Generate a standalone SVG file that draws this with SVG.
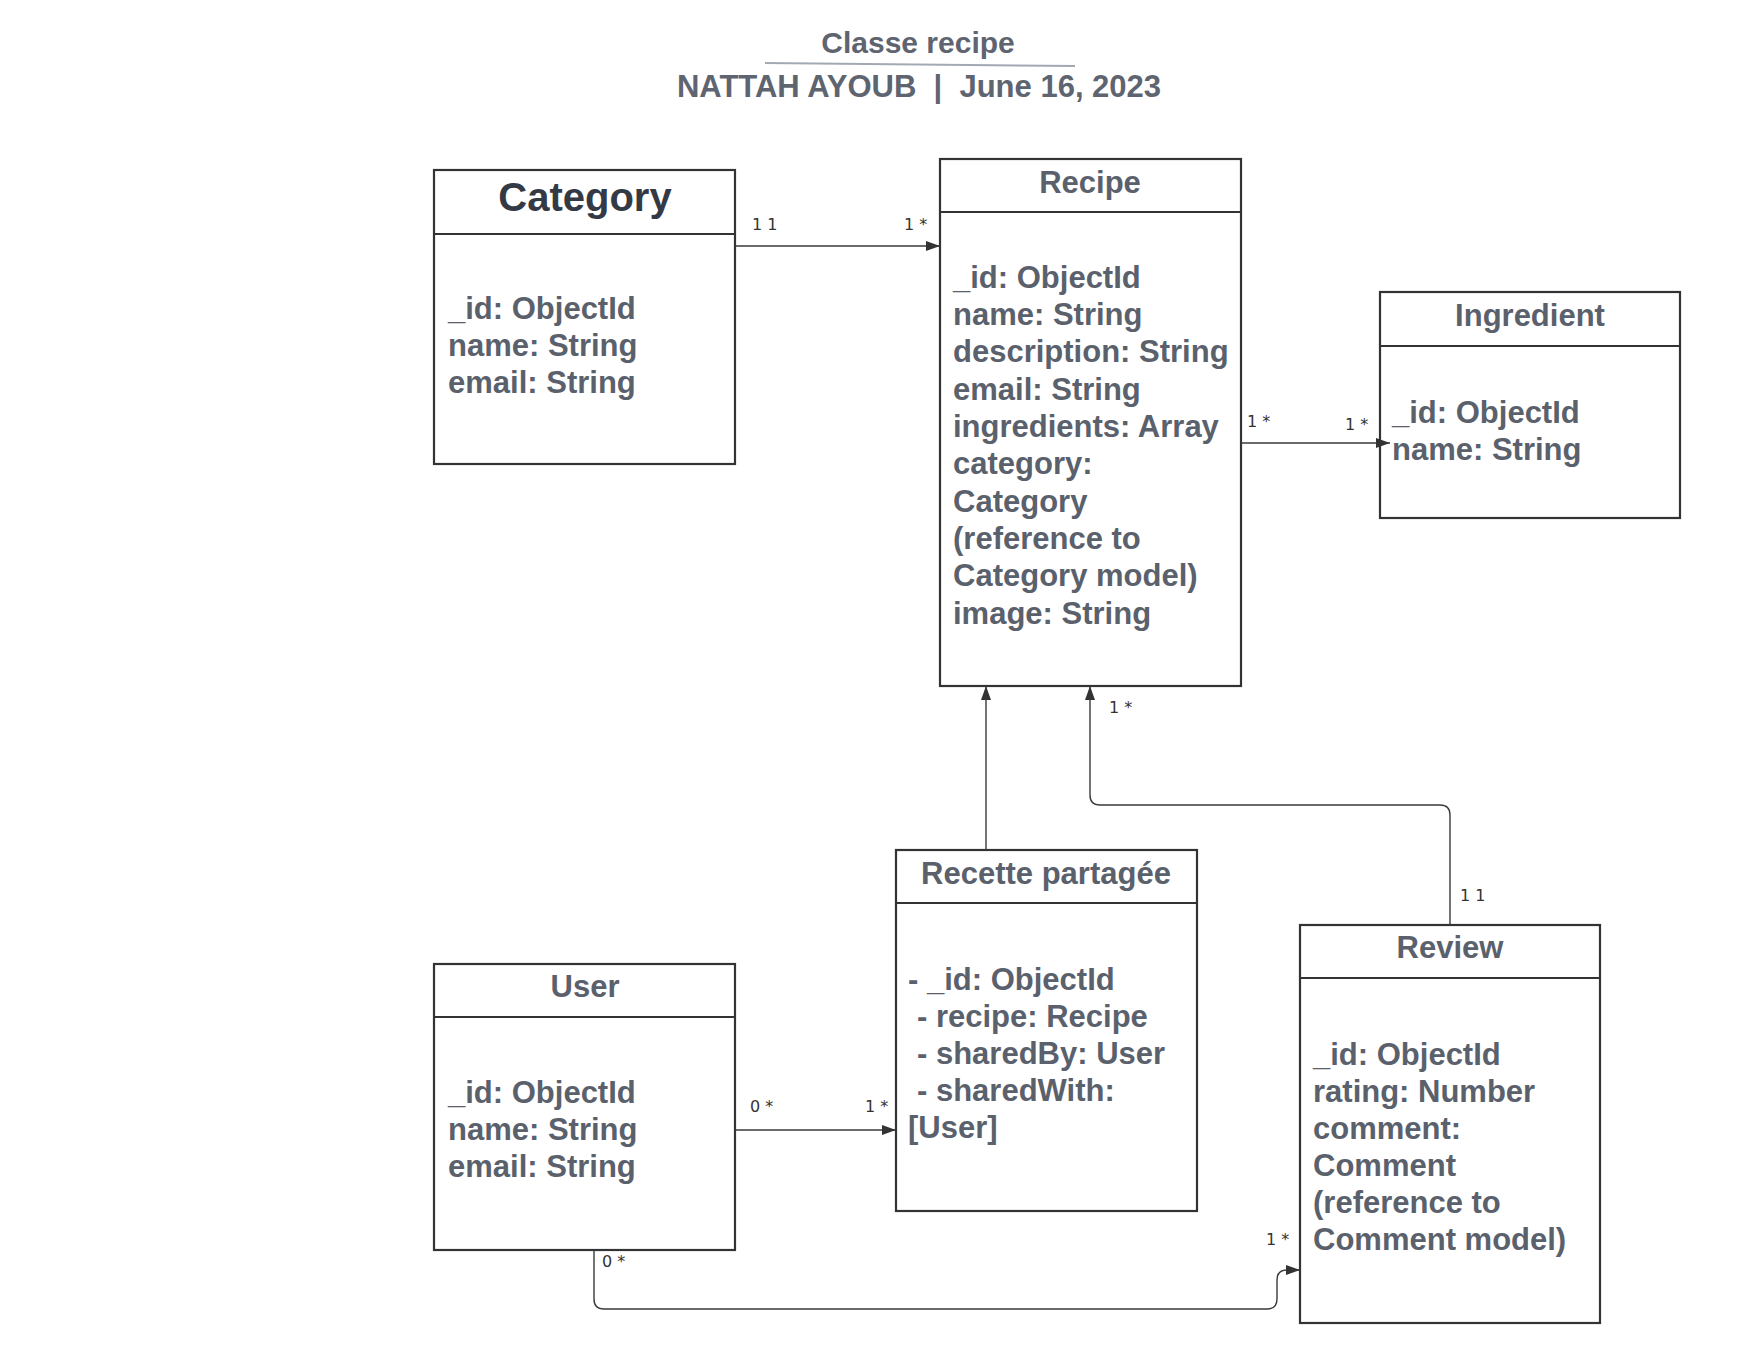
<svg xmlns="http://www.w3.org/2000/svg" width="1760" height="1360" viewBox="0 0 1760 1360">
<style>
.box{fill:#ffffff;stroke:#333333;stroke-width:2.2}
.div{stroke:#333333;stroke-width:2.2}
.title{font-family:"Liberation Sans",Arial,sans-serif;font-weight:bold;font-size:31px;fill:#5a616c;text-anchor:middle}
.big{font-family:"Liberation Sans",Arial,sans-serif;font-weight:bold;font-size:40px;fill:#343a45;text-anchor:middle}
.attr{font-family:"Liberation Sans",Arial,sans-serif;font-weight:bold;font-size:31px;fill:#5a616c}
.lbl{font-family:"DejaVu Sans","Liberation Sans",sans-serif;font-size:16px;fill:#333333}
.head{font-family:"Liberation Sans",Arial,sans-serif;font-weight:bold;font-size:30px;fill:#5e6470;text-anchor:middle}
.sub{font-family:"Liberation Sans",Arial,sans-serif;font-weight:bold;font-size:31px;fill:#5e6470;text-anchor:middle}
.conn{fill:none;stroke:#3a3a3a;stroke-width:1.4}
</style>
<defs>
<marker id="arr" markerUnits="userSpaceOnUse" markerWidth="16" markerHeight="12" refX="14" refY="5" orient="auto">
<path d="M0,0 L14,5 L0,10 z" fill="#333333"/>
</marker>
</defs>
<rect width="1760" height="1360" fill="#ffffff"/>
<g id="header">
<text class="head" x="918" y="53">Classe recipe</text>
<line x1="765" y1="63" x2="1075" y2="66" stroke="#a3a9b3" stroke-width="2"/>
<text class="sub" x="919" y="97" xml:space="preserve">NATTAH AYOUB  |  June 16, 2023</text>
</g>
<g id="category">
<rect class="box" x="434" y="170" width="301" height="294"/>
<line class="div" x1="434" y1="234" x2="735" y2="234"/>
<text class="big" x="585" y="211">Category</text>
<text class="attr" x="448" y="319">_id: ObjectId</text>
<text class="attr" x="448" y="356">name: String</text>
<text class="attr" x="448" y="393">email: String</text>
</g>
<g id="recipe">
<rect class="box" x="940" y="159" width="301" height="527"/>
<line class="div" x1="940" y1="212" x2="1241" y2="212"/>
<text class="title" x="1090" y="193">Recipe</text>
<text class="attr" x="953" y="288">_id: ObjectId</text>
<text class="attr" x="953" y="325">name: String</text>
<text class="attr" x="953" y="362">description: String</text>
<text class="attr" x="953" y="400">email: String</text>
<text class="attr" x="953" y="437">ingredients: Array</text>
<text class="attr" x="953" y="474">category:</text>
<text class="attr" x="953" y="512">Category</text>
<text class="attr" x="953" y="549">(reference to</text>
<text class="attr" x="953" y="586">Category model)</text>
<text class="attr" x="953" y="624">image: String</text>
</g>
<g id="ingredient">
<rect class="box" x="1380" y="292" width="300" height="226"/>
<line class="div" x1="1380" y1="346" x2="1680" y2="346"/>
<text class="title" x="1530" y="326">Ingredient</text>
<text class="attr" x="1392" y="423">_id: ObjectId</text>
<text class="attr" x="1392" y="460">name: String</text>
</g>
<g id="recette">
<rect class="box" x="896" y="850" width="301" height="361"/>
<line class="div" x1="896" y1="903" x2="1197" y2="903"/>
<text class="title" x="1046" y="884">Recette partagée</text>
<text class="attr" x="908" y="990">- _id: ObjectId</text>
<text class="attr" x="917" y="1027">- recipe: Recipe</text>
<text class="attr" x="917" y="1064">- sharedBy: User</text>
<text class="attr" x="917" y="1101">- sharedWith:</text>
<text class="attr" x="908" y="1138">[User]</text>
</g>
<g id="user">
<rect class="box" x="434" y="964" width="301" height="286"/>
<line class="div" x1="434" y1="1017" x2="735" y2="1017"/>
<text class="title" x="585" y="997">User</text>
<text class="attr" x="448" y="1103">_id: ObjectId</text>
<text class="attr" x="448" y="1140">name: String</text>
<text class="attr" x="448" y="1177">email: String</text>
</g>
<g id="review">
<rect class="box" x="1300" y="925" width="300" height="398"/>
<line class="div" x1="1300" y1="978" x2="1600" y2="978"/>
<text class="title" x="1450" y="958">Review</text>
<text class="attr" x="1313" y="1065">_id: ObjectId</text>
<text class="attr" x="1313" y="1102">rating: Number</text>
<text class="attr" x="1313" y="1139">comment:</text>
<text class="attr" x="1313" y="1176">Comment</text>
<text class="attr" x="1313" y="1213">(reference to</text>
<text class="attr" x="1313" y="1250">Comment model)</text>
</g>
<g id="connectors">
<line class="conn" x1="735" y1="246" x2="940" y2="246" marker-end="url(#arr)"/>
<text class="lbl" x="752" y="230">1 1</text>
<text class="lbl" x="904" y="230">1 *</text>
<line class="conn" x1="1241" y1="443" x2="1390" y2="443" marker-end="url(#arr)"/>
<text class="lbl" x="1247" y="427">1 *</text>
<text class="lbl" x="1345" y="430">1 *</text>
<line class="conn" x1="986" y1="850" x2="986" y2="686" marker-end="url(#arr)"/>
<path class="conn" d="M1450,925 L1450,815 Q1450,805 1440,805 L1100,805 Q1090,805 1090,795 L1090,686" marker-end="url(#arr)"/>
<text class="lbl" x="1109" y="713">1 *</text>
<text class="lbl" x="1460" y="901">1 1</text>
<line class="conn" x1="735" y1="1130" x2="896" y2="1130" marker-end="url(#arr)"/>
<text class="lbl" x="750" y="1112">0 *</text>
<text class="lbl" x="865" y="1112">1 *</text>
<path class="conn" d="M594,1250 L594,1299 Q594,1309 604,1309 L1267,1309 Q1277,1309 1277,1299 L1277,1280 Q1277,1270 1287,1270 L1300,1270" marker-end="url(#arr)"/>
<text class="lbl" x="602" y="1267">0 *</text>
<text class="lbl" x="1266" y="1245">1 *</text>
</g>
</svg>
